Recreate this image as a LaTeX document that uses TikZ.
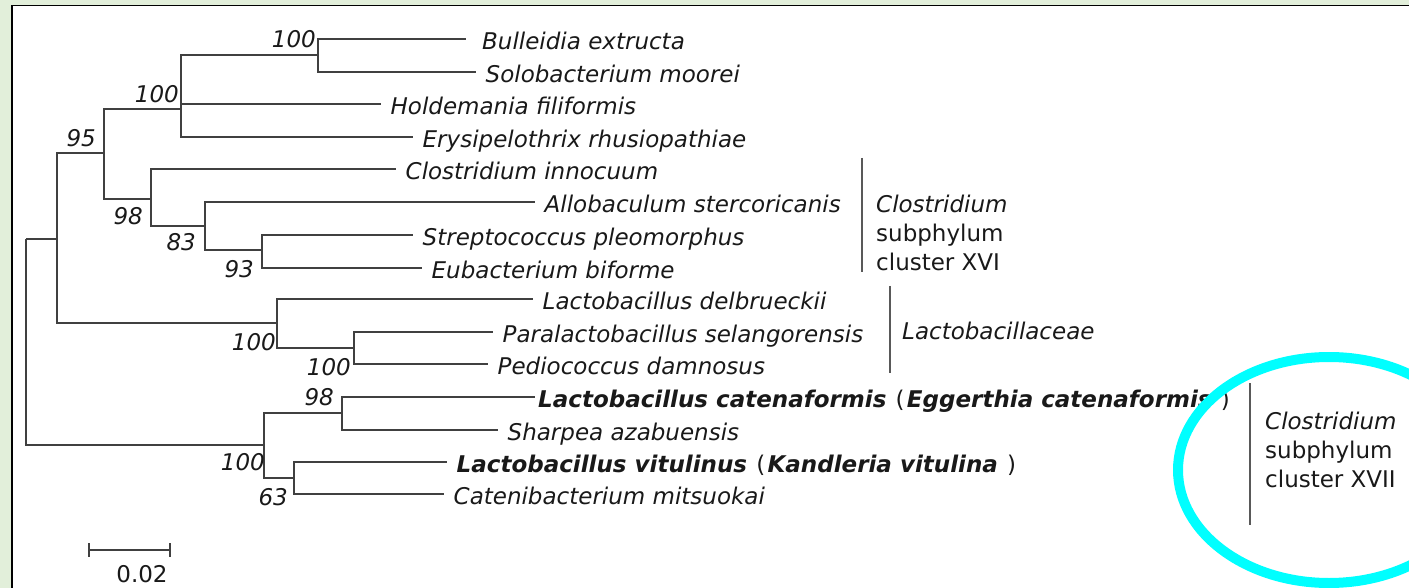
\documentclass[tikz,border=0pt]{standalone}
\usepackage{fontspec}
\setmainfont{DejaVu Sans}[ItalicFont={DejaVu Sans Oblique}, BoldFont={DejaVu Sans Bold}, BoldItalicFont={DejaVu Sans Bold Oblique}]
\usetikzlibrary{calc}
\definecolor{panelgreen}{RGB}{226,239,218}
\definecolor{ringcyan}{RGB}{0,255,255}
\newcommand{\treesize}{\fontsize{23pt}{29pt}\selectfont}
\tikzset{
  branch/.style={draw=black!75, line width=2.2pt},
  leaf/.style={anchor=west, inner xsep=9.5pt, inner ysep=0pt, text height=21pt, text depth=0pt, font=\treesize\itshape, text=black!90},
  boot/.style={anchor=base east, inner sep=0pt, font=\treesize\itshape, text=black!90},
  cladebar/.style={draw=black!65, line width=2.6pt},
  cladetext/.style={anchor=west, inner sep=0pt, align=left, font=\treesize, text=black!90},
}

\begin{document}
\begin{tikzpicture}[x=1pt, y=-1pt]
    \useasboundingbox (0,0) rectangle (1409,588);
    \fill[panelgreen] (0,0) rectangle (1409,588);
    \fill[white] (12,5.5) rectangle (1409,588);
    \draw[line width=1.6pt] (12,588) -- (12,5.5) -- (1409,5.5);

    % inner nodes
    \coordinate (root) at (26,239);
    \coordinate (n1) at (57,239);
    \coordinate (n95) at (104,153);
    \coordinate (n100a) at (181,109);
    \coordinate (n100b) at (318,55);
    \coordinate (n98) at (151,199);
    \coordinate (n83) at (205,226);
    \coordinate (n93) at (262,250);
    \coordinate (nlac) at (277,323);
    \coordinate (n100d) at (354,348);
    \coordinate (n2) at (264,445);
    \coordinate (n98b) at (342,413);
    \coordinate (n63) at (294,478);

    % leaves
    \node[leaf, inner xsep=16pt] (bul) at (466,39) {Bulleidia extructa};
    \node[leaf] (sol) at (476,72) {Solobacterium moorei};
    \node[leaf] (hol) at (381,104) {Holdemania filiformis};
    \node[leaf] (ery) at (413,137) {Erysipelothrix rhusiopathiae};
    \node[leaf] (cin) at (396,169) {Clostridium innocuum};
    \node[leaf] (all) at (535,202) {Allobaculum stercoricanis};
    \node[leaf] (str) at (413,235) {Streptococcus pleomorphus};
    \node[leaf] (eub) at (422,268) {Eubacterium biforme};
    \node[leaf] (ldel) at (533,299) {Lactobacillus delbrueckii};
    \node[leaf] (par) at (493,332) {Paralactobacillus selangorensis};
    \node[leaf] (ped) at (488,364) {Pediococcus damnosus};
    \node[leaf, inner xsep=3pt] (lcat) at (535,397)
        {\textbf{Lactobacillus catenaformis}\upshape\hspace{0.4em}(\hspace{0.1em}\textbf{\itshape Eggerthia catenaformis}\hspace{0.4em})};
    \node[leaf] (sha) at (498,430) {Sharpea azabuensis};
    \node[leaf] (lvit) at (447,462)
        {\textbf{Lactobacillus vitulinus}\upshape\hspace{0.4em}(\hspace{0.1em}\textbf{\itshape Kandleria vitulina}\hspace{0.4em})};
    \node[leaf] (cat) at (444,494) {Catenibacterium mitsuokai};

    % branches
    \draw[branch] (root) |- (n1) (root) |- (n2);
    \draw[branch] (n1) |- (n95) (n1) |- (nlac);
    \draw[branch] (n95) |- (n100a) (n95) |- (n98);
    \draw[branch] (n100a) |- (n100b) (n100a) |- (hol.west) (n100a) |- (ery.west);
    \draw[branch] (n100b) |- (bul.west) (n100b) |- (sol.west);
    \draw[branch] (n98) |- (cin.west) (n98) |- (n83);
    \draw[branch] (n83) |- (all.west) (n83) |- (n93);
    \draw[branch] (n93) |- (str.west) (n93) |- (eub.west);
    \draw[branch] (nlac) |- (ldel.west) (nlac) |- (n100d);
    \draw[branch] (n100d) |- (par.west) (n100d) |- (ped.west);
    \draw[branch] (n2) |- (n98b) (n2) |- (n63);
    \draw[branch] (n98b) |- (lcat.west) (n98b) |- (sha.west);
    \draw[branch] (n63) |- (lvit.west) (n63) |- (cat.west);

    % bootstrap values
    \node[boot] (b95) at ($(n95)+(-8,-6)$) {95};
    \node[boot] (b100a) at ($(n100a)+(-2,-6)$) {100};
    \node[boot] (b100b) at ($(n100b)+(-2,-7)$) {100};
    \node[boot] (b98) at ($(n98)+(-8,26)$) {98};
    \node[boot] (b83) at ($(n83)+(-9,25)$) {83};
    \node[boot] (b93) at ($(n93)+(-8,27)$) {93};
    \node[boot] (blac) at ($(nlac)+(-1,27)$) {100};
    \node[boot] (b100d) at ($(n100d)+(-3,27)$) {100};
    \node[boot] (b2) at ($(n2)+(1,25)$) {100};
    \node[boot] (b98b) at ($(n98b)+(-8,-8)$) {98};
    \node[boot] (b63) at ($(n63)+(-6,27)$) {63};

    % clades
    \coordinate (k16t) at (862,158);
    \coordinate (k16b) at (862,272);
    \coordinate (klact) at (890,286);
    \coordinate (klacb) at (890,373);
    \coordinate (k17t) at (1250,383);
    \coordinate (k17b) at (1250,525);
    \draw[cladebar] (k16t) -- (k16b);
    \draw[cladebar] (klact) -- (klacb);
    \draw[cladebar] (k17t) -- (k17b);
    \node[cladetext] (t16) at (876,233) {\textit{Clostridium}\\subphylum\\cluster XVI};
    \node[cladetext, anchor=base west] (tlac) at (902,339) {\textit{Lactobacillaceae}};
    \node[cladetext] (t17) at (1265,450) {\textit{Clostridium}\\subphylum\\cluster XVII};

    % scale bar
    \coordinate (sb0) at (89,550);
    \coordinate (sb1) at (170,550);
    \draw[branch] (sb0) -- (sb1);
    \draw[branch] ($(sb0)+(0,-7)$) -- ($(sb0)+(0,7)$);
    \draw[branch] ($(sb1)+(0,-7)$) -- ($(sb1)+(0,7)$);
    \node[cladetext, anchor=base] (sblabel) at (142,582) {0.02};

    \draw[ringcyan, line width=10pt] (1329,470) ellipse [x radius=151pt, y radius=113pt];
\end{tikzpicture}
\end{document}
